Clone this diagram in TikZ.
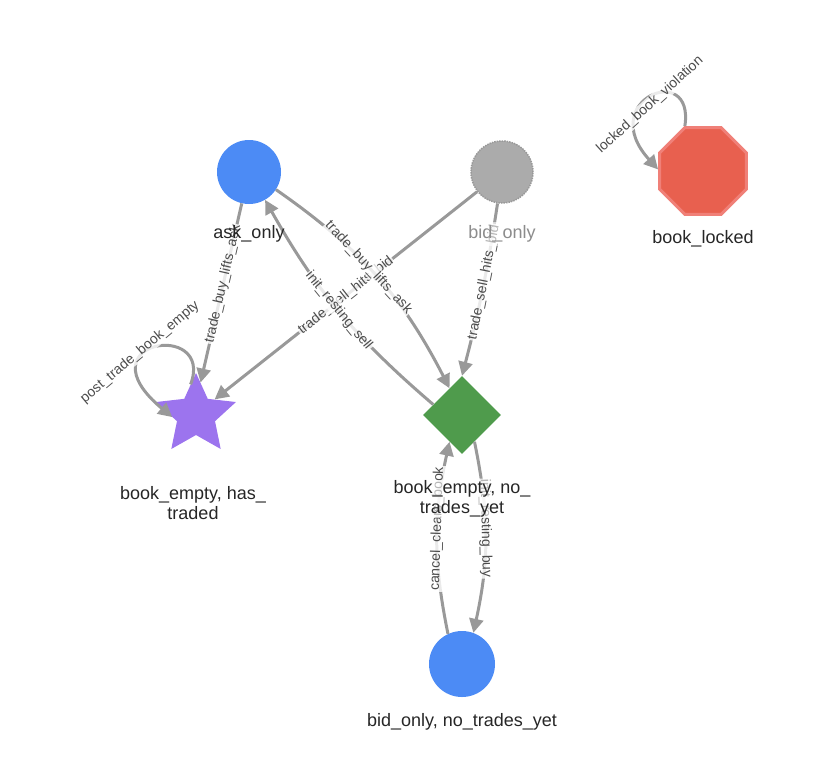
\documentclass[tikz,border=0pt]{standalone}
\usepackage{fontspec}
\setmainfont{Liberation Sans}
\usetikzlibrary{shapes.geometric,arrows.meta}
\definecolor{eg}{HTML}{999999}
\definecolor{blu}{HTML}{4C8BF5}
\definecolor{redo}{HTML}{E8604F}
\definecolor{redb}{HTML}{F08078}
\definecolor{purp}{HTML}{9C74EE}
\definecolor{grn}{HTML}{4F9B4C}
\begin{document}
\begin{tikzpicture}[x=1pt,y=-1pt,
  e/.style={draw=eg,line width=3pt,-{Triangle[length=14pt,width=14pt]}},
  el/.style={font=\fontsize{14}{14}\selectfont,text=black!70,fill=white,fill opacity=0.8,text opacity=1,inner sep=1pt,sloped},
  fl/.style={font=\fontsize{14}{14}\selectfont,text=black!70,fill=white,fill opacity=0.8,text opacity=1,inner sep=1pt},
  nl/.style={font=\fontsize{18}{20}\selectfont,text=black!85,align=center}]
\useasboundingbox (0,0) rectangle (834,774);
\node[circle,fill=blu,minimum size=64pt,inner sep=0] (ask) at (249,172) {};
\node[circle,fill=black!33,draw=black!40,densely dotted,line width=1.5pt,minimum size=62pt,inner sep=0] (bid) at (502,172) {};
\node[regular polygon,regular polygon sides=8,fill=redo,draw=redb,line width=3pt,minimum size=94pt,inner sep=0] (lock) at (703,171) {};
\node[star,star points=5,star point ratio=2.1,fill=purp,minimum size=84pt,inner sep=0] (star) at (196,415) {};
\node[diamond,fill=grn,minimum size=78pt,inner sep=0] (dia) at (462,415) {};
\node[circle,fill=blu,minimum size=66pt,inner sep=0] (bot) at (462,664) {};

\draw[e] (ask) -- node[el,pos=0.45]{trade\_buy\_lifts\_ask} (star.82);
\draw[e] (bid) -- node[el,pos=0.5]{trade\_sell\_hits\_bid} (star.40);
\draw[e] (ask) to[bend left=14] node[el,pos=0.45]{trade\_buy\_lifts\_ask} (dia.115);
\draw[e] (bid) to[bend left=3] node[el,pos=0.45]{trade\_sell\_hits\_bid} (dia.north);
\draw[e] (dia.160) to[bend left=10] node[el,pos=0.5]{init\_resting\_sell} (ask.-60);
\draw[e] (dia.-65) to[bend left=12] node[el,pos=0.45]{init\_resting\_buy} (bot.70);
\draw[e] (bot.115) to[bend left=12] node[el,pos=0.55]{cancel\_clears\_book} (dia.-115);
\draw[e] (star.100) .. controls (215,320) and (80,340) .. (star.185);
\node[fl,rotate=40] (lpost) at (140,352) {post\_trade\_book\_empty};
\draw[e] (lock.112) .. controls (695,60) and (595,100) .. (lock.178);
\node[fl,rotate=42] (llv) at (650,105) {locked\_book\_violation};

\node[nl] (lask) at (249,234) {ask\_only};
\node[nl,text=black!45,fill=white,fill opacity=0.6,text opacity=1] (lbid) at (502,234) {bid\_only};
\node[nl] (llock) at (703,239) {book\_locked};
\node[nl] (lstar) at (193,503) {book\_empty, has\_\\traded};
\node[nl,fill=white,fill opacity=0.6,text opacity=1,inner sep=1pt] (ldia) at (462,499) {book\_empty, no\_\\trades\_yet};
\node[nl] (lbot) at (462,722) {bid\_only, no\_trades\_yet};
\end{tikzpicture}
\end{document}
